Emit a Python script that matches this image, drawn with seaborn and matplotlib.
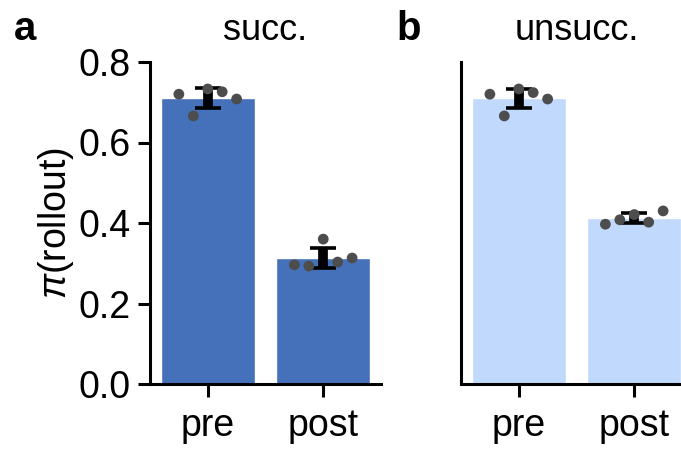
import numpy as np
import pandas as pd
import matplotlib.pyplot as plt
import seaborn as sns

# ==========================================
# DADOS
# ==========================================
CONDITIONS = ['pre', 'post']
PANELS = ['succ.', 'unsucc.']
PANEL_LETTERS = ['a', 'b']
SUCC_PRE = [0.720, 0.666, 0.733, 0.726, 0.708]
SUCC_POST = [0.296, 0.293, 0.360, 0.303, 0.313]
UNSUCC_PRE = [0.720, 0.666, 0.733, 0.724, 0.708]
UNSUCC_POST = [0.397, 0.408, 0.421, 0.402, 0.430]
SUBJECT_OFFSETS = [-0.25, -0.125, 0.0, 0.125, 0.25]
Y_TICKS = [0.0, 0.2, 0.4, 0.6, 0.8]

COLORS = ['#4571BA', '#C0D9FC']
DOT_COLOR = '#4d4d4d'

sns.set_theme(style='ticks')
plt.rcParams['font.family'] = ['Liberation Sans', 'DejaVu Sans']
plt.rcParams['mathtext.fontset'] = 'custom'
plt.rcParams['mathtext.it'] = 'Liberation Sans:italic'
plt.rcParams['axes.linewidth'] = 2.2
plt.rcParams['text.color'] = 'black'
plt.rcParams['axes.labelcolor'] = 'black'
plt.rcParams['axes.edgecolor'] = 'black'

fig = plt.figure(figsize=(6.81, 4.51), dpi=100)
ax_a = fig.add_axes([150 / 681, 67 / 451, 231 / 681, 322 / 451])
ax_b = fig.add_axes([461 / 681, 67 / 451, 231 / 681, 322 / 451])

panel_data = [[SUCC_PRE, SUCC_POST], [UNSUCC_PRE, UNSUCC_POST]]

for k, ax in enumerate([ax_a, ax_b]):
    pre, post = panel_data[k]
    df = pd.DataFrame({
        'cond': ['pre'] * len(pre) + ['post'] * len(post),
        'val': pre + post,
    })
    sns.barplot(data=df, x='cond', y='val', order=CONDITIONS, color=COLORS[k],
                saturation=1, errorbar=None, width=0.81, ax=ax)

    # média +- 2 erros padrão
    stats = df.groupby('cond', sort=False)['val'].agg(['mean', 'std', 'count'])
    stats = stats.loc[CONDITIONS]
    sem = stats['std'] / np.sqrt(stats['count'])
    ax.errorbar(np.arange(len(CONDITIONS)), stats['mean'], yerr=2 * sem,
                fmt='none', ecolor='black', elinewidth=7, capsize=9.5,
                capthick=2.6, zorder=3)

    for i, vals in enumerate([pre, post]):
        xs = i + np.array(SUBJECT_OFFSETS)
        sns.scatterplot(x=xs, y=vals, color=DOT_COLOR, s=60, edgecolor='none',
                        zorder=4, ax=ax, legend=False)

    ax.set_xlim(-0.5, 1.5)
    ax.set_ylim(0, 0.8)
    ax.set_yticks(Y_TICKS)
    ax.set_xlabel('')
    ax.set_ylabel('')
    ax.tick_params(axis='both', labelsize=27, length=9, width=2.2, pad=5,
                   colors='black')
    ax.tick_params(axis='x', pad=8)
    ax.set_title(PANELS[k], fontsize=26, pad=16, color='black')
    sns.despine(ax=ax)

ax_a.set_ylabel(r'$\mathit{\pi}$(rollout)', fontsize=27, labelpad=2)
ax_b.set_yticks([])
ax_b.tick_params(axis='y', length=0, labelleft=False)

fig.text(14 / 681, 1 - 29 / 451, PANEL_LETTERS[0], fontsize=29,
         fontweight='bold', va='center', ha='left')
fig.text(396 / 681, 1 - 29 / 451, PANEL_LETTERS[1], fontsize=29,
         fontweight='bold', va='center', ha='left')

fig.savefig('out.png', dpi=100)
